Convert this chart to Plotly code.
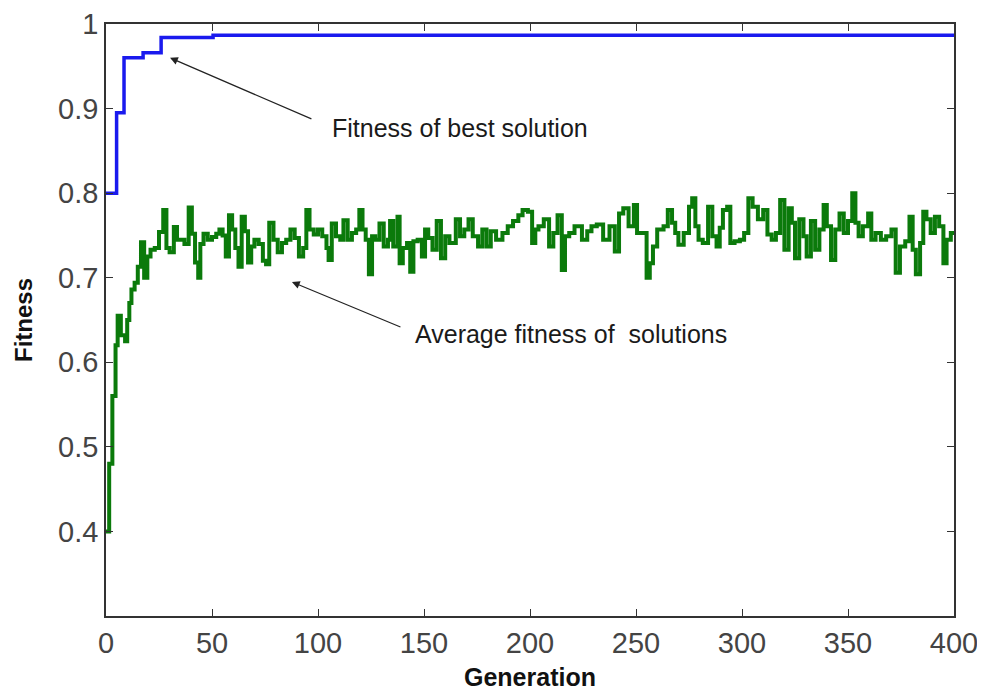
import plotly.graph_objects as go

# Best-solution fitness (step line)
best_gen = [0, 5, 8.5, 17.5, 26, 50.5, 400]
best_fit = [0.800, 0.895, 0.960, 0.966, 0.984, 0.9866, 0.9866]

# Average fitness of solutions (step line)
avg_gen = [0, 1.5, 3, 4.5, 5.5, 7, 9, 10, 11, 12, 13.5, 15, 16.5, 18, 19.5, 21, 23, 25, 27, 28.5,
           30, 32, 33.5, 35, 37, 39, 40.5, 42, 43.5, 44.5, 46, 48, 50, 52, 53.5, 55, 56.5, 58, 59.5, 61,
           62.5, 64, 65.5, 67, 68.5, 70, 72, 74, 75.5, 77, 79, 81, 83, 85, 87, 89, 91, 93, 94.5, 96,
           98, 100, 102, 104, 105, 106.5, 108.5, 110.5, 112, 114, 116, 118, 119.5, 121, 122.5, 124, 125.5, 127, 129, 131,
           133, 134, 135.5, 137.5, 138.5, 140, 142, 143.5, 145, 147, 149, 150.5, 152, 154, 156, 158, 160, 162, 165, 167,
           169, 171, 173, 175.5, 177.5, 179.5, 181.5, 184, 187, 189.5, 192, 194.5, 196.5, 199, 201, 202.5, 204, 206.5, 209, 211,
           213, 215, 216.5, 218.5, 221, 224.5, 227, 229, 231.5, 234.5, 237.5, 240, 242, 244, 246.5, 249, 250.5, 253, 255, 256.5,
           258, 260, 263, 265, 267, 268.5, 270, 272.5, 275, 276.5, 278, 279.5, 281.5, 284, 286, 288, 289.5, 291, 293, 294.5,
           296.5, 299, 301, 303, 305, 307.5, 310, 312, 314, 316, 318, 320, 322, 323.5, 325, 327, 329, 330.5, 332.5, 334.5,
           336.5, 338.5, 340, 342, 344, 346, 348, 350, 352, 353.5, 355, 357, 359.5, 361, 363, 365.5, 368, 370.5, 372.5, 374.5,
           377, 379, 380.5, 382, 384, 385.5, 387, 389, 391, 393, 395, 396.5, 398.5, 400]
avg_fit = [0.400, 0.480, 0.560, 0.620, 0.655, 0.632, 0.625, 0.650, 0.670, 0.686, 0.694, 0.713, 0.742, 0.700, 0.725, 0.733, 0.735, 0.754, 0.780, 0.735,
           0.730, 0.760, 0.745, 0.745, 0.740, 0.783, 0.752, 0.718, 0.700, 0.740, 0.752, 0.745, 0.748, 0.752, 0.757, 0.750, 0.725, 0.774, 0.757, 0.735,
           0.713, 0.772, 0.755, 0.718, 0.737, 0.745, 0.740, 0.720, 0.716, 0.765, 0.745, 0.730, 0.741, 0.745, 0.757, 0.747, 0.725, 0.735, 0.780, 0.757,
           0.751, 0.757, 0.749, 0.735, 0.721, 0.764, 0.749, 0.745, 0.768, 0.745, 0.753, 0.757, 0.780, 0.757, 0.745, 0.704, 0.749, 0.745, 0.764, 0.737,
           0.745, 0.767, 0.737, 0.772, 0.717, 0.735, 0.741, 0.707, 0.743, 0.745, 0.725, 0.757, 0.747, 0.733, 0.767, 0.723, 0.749, 0.741, 0.769, 0.749,
           0.757, 0.769, 0.749, 0.737, 0.757, 0.737, 0.755, 0.745, 0.753, 0.761, 0.767, 0.774, 0.780, 0.778, 0.741, 0.757, 0.761, 0.769, 0.737, 0.753,
           0.774, 0.709, 0.749, 0.753, 0.761, 0.745, 0.755, 0.761, 0.763, 0.745, 0.761, 0.731, 0.776, 0.782, 0.761, 0.786, 0.753, 0.753, 0.700, 0.717,
           0.737, 0.757, 0.761, 0.780, 0.765, 0.753, 0.739, 0.753, 0.784, 0.794, 0.761, 0.745, 0.741, 0.784, 0.749, 0.737, 0.759, 0.780, 0.784, 0.741,
           0.743, 0.745, 0.753, 0.794, 0.784, 0.769, 0.780, 0.751, 0.745, 0.753, 0.792, 0.733, 0.782, 0.765, 0.723, 0.769, 0.749, 0.725, 0.767, 0.733,
           0.757, 0.786, 0.761, 0.721, 0.757, 0.776, 0.753, 0.767, 0.800, 0.765, 0.749, 0.761, 0.776, 0.745, 0.753, 0.745, 0.749, 0.757, 0.706, 0.737,
           0.743, 0.772, 0.733, 0.704, 0.741, 0.778, 0.769, 0.753, 0.772, 0.761, 0.717, 0.745, 0.753, 0.753]

x_ticks = [0, 50, 100, 150, 200, 250, 300, 350, 400]
y_ticks = [0.4, 0.5, 0.6, 0.7, 0.8, 0.9, 1.0]
y_tick_text = ["0.4", "0.5", "0.6", "0.7", "0.8", "0.9", "1"]

FONT = "Liberation Sans, Arial, sans-serif"

fig = go.Figure()
fig.add_trace(go.Scatter(x=avg_gen, y=avg_fit, mode="lines", line_shape="hv",
                         line=dict(color="#0b7a0b", width=4), showlegend=False))
fig.add_trace(go.Scatter(x=best_gen, y=best_fit, mode="lines", line_shape="hv",
                         line=dict(color="#1a1aee", width=3.5), showlegend=False))

ann_font = dict(family=FONT, size=25, color="#1a1a1a")
fig.add_annotation(x=30.2, y=0.960, ax=97.6, ay=0.887, xref="x", yref="y", axref="x", ayref="y",
                   text="", showarrow=True, arrowhead=2, arrowsize=1.3, arrowwidth=1.2, arrowcolor="#222")
fig.add_annotation(x=105.7, y=0.877, xref="x", yref="y", text="Fitness of best solution",
                   showarrow=False, xanchor="left", yanchor="middle", font=ann_font)
fig.add_annotation(x=87.7, y=0.695, ax=139.6, ay=0.641, xref="x", yref="y", axref="x", ayref="y",
                   text="", showarrow=True, arrowhead=2, arrowsize=1.3, arrowwidth=1.2, arrowcolor="#222")
fig.add_annotation(x=144.8, y=0.633, xref="x", yref="y", text="Average fitness of&nbsp; solutions",
                   showarrow=False, xanchor="left", yanchor="middle", font=ann_font)

axis_common = dict(showline=True, linecolor="#333", linewidth=1.5, mirror="ticks",
                   ticks="inside", ticklen=7, tickcolor="#333", tickwidth=1.3,
                   showgrid=False, zeroline=False, automargin=False,
                   tickfont=dict(family=FONT, size=29, color="#444"))

fig.update_xaxes(range=[0, 400], tickvals=x_ticks, **axis_common,
                 title=dict(text="<b>Generation</b>", standoff=14,
                            font=dict(family=FONT, size=25, color="#111")))
fig.update_yaxes(range=[0.3, 1.0], tickvals=y_ticks, ticktext=y_tick_text, **axis_common,
                 ticklabelstandoff=0,
                 title=dict(text="<b>Fitness</b>", standoff=19,
                            font=dict(family=FONT, size=24, color="#111")))

# page body has an 8px margin, so the figure is sized/placed to compensate
fig.update_layout(width=977, height=683, margin=dict(l=98, r=31, t=16, b=75),
                  plot_bgcolor="white", paper_bgcolor="white")

fig.write_html("out.html")
